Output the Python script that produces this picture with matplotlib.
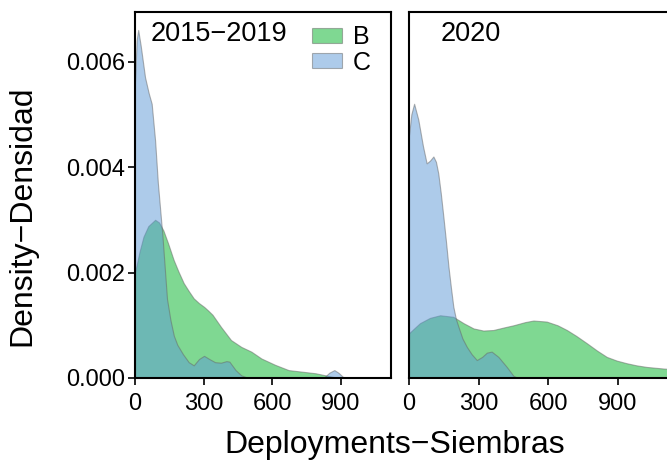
import matplotlib.pyplot as plt

# densities (deployments, density)
b1_x = [0, 20, 37, 58, 88, 105, 124, 145, 169, 190, 213, 235, 257, 280, 302, 320, 339, 376, 420, 465, 509, 553, 613, 672, 731, 790, 834, 880, 920]
b1_y = [0.0020, 0.0024, 0.00268, 0.00288, 0.0030, 0.00295, 0.0028, 0.00255, 0.00224, 0.00202, 0.0018, 0.00165, 0.00151, 0.00142, 0.00135, 0.00128, 0.0012, 0.00097, 0.00072, 0.00059, 0.0005, 0.00037, 0.00025, 0.00015, 0.00012, 0.00009, 0.00005, 0.00001, 0.0]

c1_x = [0, 7, 14, 25, 44, 60, 73, 88, 100, 110, 120, 130, 140, 155, 170, 185, 210, 235, 257, 280, 302, 325, 350, 376, 400, 413, 440, 465, 490, 520, 800, 830, 850, 872, 890, 910, 940]
c1_y = [0.0056, 0.0064, 0.0066, 0.0063, 0.0057, 0.0054, 0.0052, 0.0045, 0.0037, 0.0032, 0.0027, 0.0021, 0.0015, 0.0011, 0.0008, 0.00063, 0.00045, 0.0003, 0.00024, 0.00036, 0.00042, 0.00036, 0.0003, 0.00029, 0.00032, 0.00031, 0.00015, 0.00005, 0.00001, 0.0, 0.0, 0.00002, 0.0001, 0.00015, 0.0001, 0.00002, 0.0]

b2_x = [0, 47, 90, 134, 191, 235, 278, 320, 363, 410, 450, 500, 536, 593, 640, 680, 720, 766, 810, 852, 895, 938, 980, 1024, 1096, 1130]
b2_y = [0.00085, 0.00104, 0.00114, 0.00119, 0.00116, 0.00104, 0.00094, 0.0009, 0.00091, 0.00096, 0.001, 0.00106, 0.00109, 0.00107, 0.001, 0.00091, 0.0008, 0.00066, 0.00052, 0.0004, 0.00033, 0.00028, 0.00024, 0.00021, 0.00018, 0.00017]

c2_x = [0, 10, 22, 40, 60, 76, 90, 105, 116, 126, 137, 148, 159, 170, 181, 191, 202, 213, 230, 249, 270, 292, 315, 335, 356, 385, 421, 450, 470]
c2_y = [0.0046, 0.0050, 0.0052, 0.0049, 0.0044, 0.00407, 0.00412, 0.0042, 0.0041, 0.00388, 0.0035, 0.00306, 0.0026, 0.00211, 0.0017, 0.00135, 0.00112, 0.00097, 0.00075, 0.00059, 0.00045, 0.00034, 0.0004, 0.00048, 0.0005, 0.0004, 0.00021, 0.00004, 0.0]

panels = ['2015\u22122019', '2020']
groups = ['B', 'C']
colors = {'B': (0.0, 0.70, 0.15), 'C': (0.365, 0.60, 0.843)}
x_ticks = [0, 300, 600, 900]
y_ticks = [0.000, 0.002, 0.004, 0.006]

plt.rcParams['font.family'] = ['Liberation Sans', 'DejaVu Sans']

fig = plt.figure(figsize=(6.67, 4.65), dpi=100)
ax1 = fig.add_axes([0.2024, 0.1871, 0.3838, 0.7871])
ax2 = fig.add_axes([0.6132, 0.1871, 0.3898, 0.7871])

data = [
	{'B': (b1_x, b1_y), 'C': (c1_x, c1_y)},
	{'B': (b2_x, b2_y), 'C': (c2_x, c2_y)},
]

for ax, title, d in zip([ax1, ax2], panels, data):
	for g in groups:
		xs, ys = d[g]
		ax.fill_between(xs, ys, 0, facecolor=colors[g], alpha=0.5,
			edgecolor=(0.4, 0.4, 0.4, 0.25), linewidth=0.8, label=g)
	ax.set_xlim(0, 1120)
	ax.set_ylim(0, 0.00694)
	ax.set_xticks(x_ticks)
	ax.tick_params(axis='x', direction='out', length=5, width=1.2, labelsize=17, colors='black', pad=6)
	ax.tick_params(axis='y', direction='out', length=5, width=1.2, labelsize=17, colors='black', pad=2)
	for spine in ax.spines.values():
		spine.set_linewidth(1.5)
		spine.set_color('black')
	ax.text(0.06 if ax is ax1 else 0.12, 0.975, title, transform=ax.transAxes, fontsize=19.5, va='top', ha='left')

ax1.set_yticks(y_ticks)
ax1.set_yticklabels(['%.3f' % v for v in y_ticks])
ax2.set_yticks([])

leg = ax1.legend(loc='upper right', bbox_to_anchor=(1.0, 1.018), frameon=False, fontsize=18,
	handlelength=1.2, handleheight=0.55, handletextpad=0.45, labelspacing=0.05, borderpad=0.3)

fig.text(0.591, 1 - 453 / 465, 'Deployments\u2212Siembras', fontsize=23, ha='center', va='baseline')
fig.text(0.033, 0.535, 'Density\u2212Densidad', fontsize=23, ha='center', va='center', rotation=90)

fig.savefig('out.png', dpi=100)
